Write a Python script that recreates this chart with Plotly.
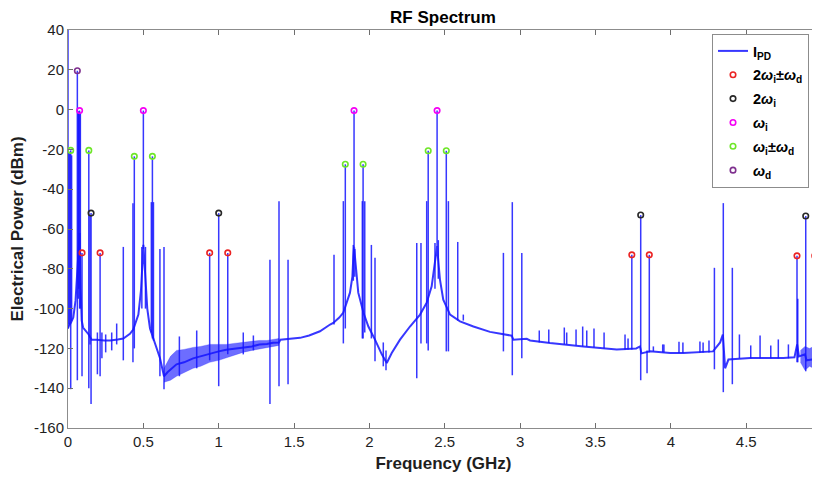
import plotly.graph_objects as go

# ---------------- data ----------------
# continuous noise floor of the photodiode current spectrum (GHz, dBm)
floor_f = [0.000, 0.004, 0.020, 0.035, 0.050, 0.060, 0.068, 0.077, 0.084, 0.091,
           0.100, 0.124, 0.137, 0.157, 0.190, 0.240, 0.280, 0.330, 0.367, 0.411,
           0.433, 0.467, 0.484, 0.495, 0.500, 0.505, 0.511, 0.526, 0.544, 0.566,
           0.588, 0.610, 0.637, 0.660, 0.720, 0.770, 0.830, 0.880, 0.940, 1.000,
           1.050, 1.100, 1.160, 1.220, 1.270, 1.320, 1.360, 1.400, 1.410, 1.500,
           1.540, 1.600, 1.672, 1.739, 1.760, 1.800, 1.827, 1.871, 1.887, 1.893,
           1.898, 1.904, 1.911, 1.926, 1.960, 1.993, 2.037, 2.082, 2.115, 2.148,
           2.203, 2.269, 2.336, 2.380, 2.413, 2.435, 2.449, 2.458, 2.468, 2.490,
           2.535, 2.601, 2.690, 2.800, 2.889, 2.944, 2.955, 3.044, 3.066, 3.198,
           3.420, 3.641, 3.770, 3.795, 3.805, 3.862, 3.995, 4.083, 4.280, 4.327,
           4.345, 4.350, 4.360, 4.382, 4.526, 4.747, 4.820, 4.838, 4.850, 4.890,
           4.900, 4.983]
floor_db = [-110, -109, -107, -104.5, -96, -85, -72, -62, -90, -106,
            -109.5, -111.5, -113, -115.6, -115.6, -116, -116, -115.5, -115, -112.7,
            -110.5, -103, -91, -76, -68, -74, -81, -100, -110, -115,
            -120.6, -124.8, -134, -132, -128, -127, -125, -124, -122.5, -121.5,
            -120.7, -120.3, -119.8, -119, -118, -117.8, -117.2, -117, -115.6, -114.8,
            -114.7, -113.5, -111.4, -108, -107.2, -104.5, -102, -92, -84, -74,
            -69, -74, -80.4, -92, -102, -109, -115.6, -123, -127.3, -122.3,
            -115.6, -109, -103, -97, -88.8, -77, -68.7, -77, -85.4, -95.5,
            -103, -106.4, -109, -111.7, -113, -113.6, -115.6, -115.2, -116, -117.3,
            -119, -120.6, -120, -119, -122.5, -121.4, -122.3, -122.3, -121.5, -117,
            -113, -118, -130, -125.6, -124.8, -124.8, -124.5, -118, -124, -123,
            -126, -125]

# noisy band envelopes (GHz, upper dBm, lower dBm)
band1_f = [0.637, 0.680, 0.720, 0.770, 0.830, 0.880, 0.940, 1.000, 1.050, 1.100,
           1.160, 1.220, 1.270, 1.320, 1.360, 1.400]
band1_hi = [-130, -124, -121, -120.5, -119.5, -119, -118, -118, -118, -117.5,
            -117, -116.5, -116, -116, -115.5, -115]
band1_lo = [-137, -136, -134, -132, -130, -129, -127, -126, -124.5, -123.5,
            -122, -121, -120, -119.5, -119, -118.5]
band2_f = [4.860, 4.890, 4.920, 4.950, 4.983]
band2_hi = [-121, -119, -120, -119, -121]
band2_lo = [-127, -131, -129, -130, -128]

# discrete spectral lines (GHz, top dBm, bottom dBm)
spike_f = [0.000, 0.006, 0.012, 0.018, 0.024, 0.062, 0.068, 0.072, 0.077, 0.082,
           0.093, 0.138, 0.146, 0.153, 0.195, 0.213, 0.225, 0.250, 0.290, 0.323,
           0.367, 0.431, 0.440, 0.490, 0.500, 0.514, 0.553, 0.560, 0.567, 0.610,
           0.637, 0.739, 0.854, 0.940, 1.000, 1.060, 1.163, 1.230, 1.340, 1.400,
           1.460, 1.765, 1.827, 1.840, 1.893, 1.898, 1.903, 1.953, 1.958, 1.969,
           2.013, 2.037, 2.092, 2.110, 2.314, 2.342, 2.380, 2.390, 2.435, 2.449,
           2.457, 2.510, 2.524, 2.586, 2.623, 2.889, 2.948, 3.011, 3.127, 3.190,
           3.293, 3.309, 3.371, 3.415, 3.442, 3.490, 3.557, 3.696, 3.716, 3.741,
           3.800, 3.842, 3.857, 3.884, 3.946, 3.954, 4.054, 4.080, 4.193, 4.214,
           4.253, 4.289, 4.348, 4.408, 4.455, 4.530, 4.592, 4.663, 4.713, 4.780,
           4.837, 4.842, 4.895, 4.955, 4.960]
spike_top = [42, -21, -22, -20.5, -23, 19.5, -1, -1, -0.5, -2,
             -72, -20.5, -53, -52, -112, -72, -112, -113, -112, -107.5,
             -69, -47, -23.5, -69, -0.5, -69, -46.5, -23.5, -46.5, -70,
             -69, -114, -111, -72, -52, -72, -112, -113.5, -75.5, -46,
             -75.5, -73, -46, -27.5, -68, -0.5, -70, -46, -27.5, -46,
             -68, -74.5, -117, -121, -67, -67, -46, -20.7, -67, -0.5,
             -65.6, -20.7, -46, -66.5, -103, -72, -46.5, -72, -111, -110.5,
             -109.5, -112, -110.5, -109, -111, -110, -112, -113, -115, -73,
             -53, -121, -73, -119, -118, -118, -116.7, -117, -116.5, -117,
             -116, -79.5, -47, -79.5, -113, -118.5, -113.5, -118.5, -115.5, -118,
             -73.5, -95, -53.5, -73.5, -95]
spike_bot = [-110, -108, -108, -140.5, -106, -136, -95, -90, -100, -100,
             -134, -140, -118, -148, -133, -134, -125, -122, -121, -118,
             -126, -127, -120, -100, -70, -100, -112, -115, -116, -134,
             -140.5, -134, -130, -126, -139, -123, -123, -121, -148, -139,
             -138, -108, -117.5, -110, -86, -69, -84, -115, -115, -112,
             -115, -126.5, -129, -131, -135, -117.5, -117.5, -121, -90, -69,
             -85, -121.5, -121.5, -106, -106, -121.5, -133.5, -125, -117, -117.3,
             -118, -118, -118.5, -119, -119, -119.5, -120, -120.5, -120.5, -120.5,
             -136, -132.5, -122, -121.5, -122, -122, -122.3, -122.3, -122, -122,
             -122, -130.5, -142, -138, -125, -125, -125, -125, -125, -125,
             -127, -127, -131.5, -131, -125]

# marked tones
red_f = [0.093, 0.213, 0.940, 1.060, 3.741, 3.857, 4.837, 4.955]
red_db = [-72, -72, -72, -72, -73, -73, -73.5, -73.5]
black_f = [0.153, 1.000, 3.800, 4.895]
black_db = [-52, -52, -53, -53.5]
mag_f = [0.077, 0.500, 1.898, 2.449]
mag_db = [-0.5, -0.5, -0.5, -0.5]
green_f = [0.018, 0.138, 0.440, 0.560, 1.840, 1.958, 2.390, 2.510]
green_db = [-20.5, -20.5, -23.5, -23.5, -27.5, -27.5, -20.7, -20.7]
purple_f = [0.062]
purple_db = [19.5]

x_ticks = [0, 0.5, 1, 1.5, 2, 2.5, 3, 3.5, 4, 4.5, 5]
x_ticktext = ["0", "0.5", "1", "1.5", "2", "2.5", "3", "3.5", "4", "4.5", "5"]
y_ticks = [40, 20, 0, -20, -40, -60, -80, -100, -120, -140, -160]
y_ticktext = ["40", "20", "0", "-20", "-40", "-60", "-80", "-100", "-120", "-140", "-160"]

# ---------------- figure ----------------
FONT = "Liberation Sans, Arial, Helvetica, sans-serif"
LINE = "rgba(20,20,255,0.85)"

fig = go.Figure()

fig.add_trace(go.Scatter(
    x=floor_f, y=floor_db, mode="lines", name="<b>I<sub>PD</sub></b>",
    legendgroup="ipd", line=dict(color=LINE, width=2.0), hoverinfo="skip"))

for bf, bh, bl in [(band1_f, band1_hi, band1_lo), (band2_f, band2_hi, band2_lo)]:
    fig.add_trace(go.Scatter(
        x=list(bf) + list(bf[::-1]), y=list(bh) + list(bl[::-1]),
        mode="lines", fill="toself", fillcolor="rgba(20,20,255,0.62)",
        line=dict(color="rgba(20,20,255,0.5)", width=0.5),
        showlegend=False, legendgroup="ipd", hoverinfo="skip"))

sx, sy = [], []
for f, t, b in zip(spike_f, spike_top, spike_bot):
    sx += [f, f, None]
    sy += [t, b, None]
fig.add_trace(go.Scatter(
    x=sx, y=sy, mode="lines", line=dict(color=LINE, width=1.5),
    showlegend=False, legendgroup="ipd", hoverinfo="skip", connectgaps=False))

def add_markers(fx, fy, color, name, group):
    fig.add_trace(go.Scatter(
        x=fx, y=fy, mode="markers", name=name, legendgroup=group,
        marker=dict(symbol="circle-open", size=5.5, color=color,
                    line=dict(width=1.6, color=color))))

add_markers(red_f, red_db, "rgb(235,35,35)",
            "<b>2<i>ω</i><sub>i</sub>±<i>ω</i><sub>d</sub></b>", "g1")
add_markers(black_f, black_db, "rgb(40,40,40)", "<b>2<i>ω</i><sub>i</sub></b>", "g2")
add_markers(mag_f, mag_db, "rgb(245,0,245)", "<b><i>ω</i><sub>i</sub></b>", "g3")
add_markers(green_f, green_db, "rgb(110,230,40)",
            "<b><i>ω</i><sub>i</sub>±<i>ω</i><sub>d</sub></b>", "g4")
add_markers(purple_f, purple_db, "rgb(126,47,142)", "<b><i>ω</i><sub>d</sub></b>", "g5")

axis_common = dict(
    showline=True, linecolor="rgb(140,140,140)", linewidth=1, mirror="ticks",
    ticks="inside", ticklen=5, tickcolor="rgb(110,110,110)", showgrid=False,
    zeroline=False, automargin=False,
    tickfont=dict(family=FONT, size=15, color="rgb(30,30,30)"),
)

# the page body adds an 8 px offset, so the figure is sized to fit the window
fig.update_layout(
    width=812, height=471,
    margin=dict(l=60, r=1, t=22, b=51),
    paper_bgcolor="white", plot_bgcolor="white",
    font=dict(family=FONT, color="rgb(30,30,30)"),
    title=dict(text="<b>RF Spectrum</b>", x=0.5357, xanchor="center",
               y=0.994, yanchor="top",
               font=dict(family=FONT, size=17, color="black")),
    xaxis=dict(range=[0, 4.983], tickvals=x_ticks, ticktext=x_ticktext,
               title=dict(text="<b>Frequency (GHz)</b>", standoff=8,
                          font=dict(family=FONT, size=17, color="rgb(30,30,30)")),
               **axis_common),
    yaxis=dict(range=[-160, 40], tickvals=y_ticks, ticktext=y_ticktext,
               title=dict(text="<b>Electrical Power (dBm)</b>", standoff=6,
                          font=dict(family=FONT, size=17, color="rgb(30,30,30)")),
               **axis_common),
    legend=dict(x=0.9867, xanchor="right", y=0.99, yanchor="top",
                bgcolor="white", bordercolor="rgb(140,140,140)", borderwidth=1,
                font=dict(family=FONT, size=14.5, color="black"),
                itemwidth=30, traceorder="grouped", tracegroupgap=2),
    showlegend=True,
)

fig.write_html("out.html")
